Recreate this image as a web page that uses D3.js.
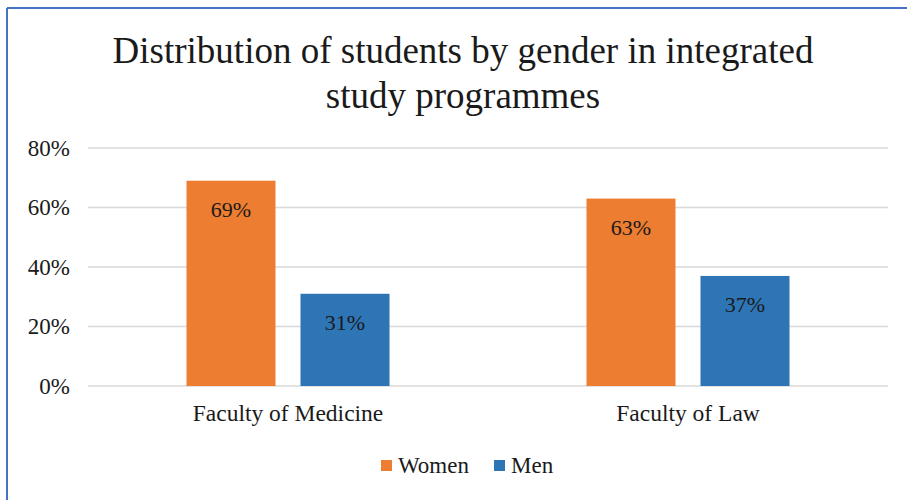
<!DOCTYPE html>
<html>
<head>
<meta charset="utf-8"/>
<title>Distribution of students by gender</title>
<script src="https://d3js.org/d3.v7.min.js"></script>
<style>
  body { margin: 0; background: #fff; }
  svg text { font-family: "Liberation Serif", "Times New Roman", serif; fill: #1a1a1a; }
</style>
</head>
<body>
<svg width="907" height="500"></svg>
<script>
// data
var faculties = ["Faculty of Medicine", "Faculty of Law"];
var seriesNames = ["Women", "Men"];
var women = [0.69, 0.63];
var men = [0.31, 0.37];
var yTicks = [0, 0.2, 0.4, 0.6, 0.8];
var colors = ["#ED7D31", "#2E75B6"];

var FONT = "'Liberation Serif', 'Times New Roman', serif";
var svg = d3.select("svg");

// blue frame (only top and left edges visible)
svg.append("line").attr("x1", 7).attr("y1", 8).attr("x2", 907).attr("y2", 8)
  .attr("stroke", "#4472C4").attr("stroke-width", 2);
svg.append("line").attr("x1", 7).attr("y1", 8).attr("x2", 7).attr("y2", 500)
  .attr("stroke", "#4472C4").attr("stroke-width", 2);

// title
var title = svg.append("text")
  .attr("text-anchor", "middle")
  .style("font-family", FONT)
  .style("font-size", "37px");
title.append("tspan").attr("x", 463).attr("y", 63).text("Distribution of students by gender in integrated");
title.append("tspan").attr("x", 463).attr("y", 108).text("study programmes");

var margin = {left: 88, right: 19, top: 148, bottom: 114};
var width = 907 - margin.left - margin.right,
    height = 500 - margin.top - margin.bottom;

var g = svg.append("g").attr("transform", "translate(" + margin.left + "," + margin.top + ")");

var x0 = d3.scaleBand().domain(faculties).range([0, width]);
var y = d3.scaleLinear().domain([0, 0.8]).range([height, 0]);

// gridlines
g.selectAll(".grid")
  .data(yTicks)
  .enter().append("line")
  .attr("x1", 0).attr("x2", width)
  .attr("y1", function(d) { return y(d); })
  .attr("y2", function(d) { return y(d); })
  .attr("stroke", "#d9d9d9").attr("stroke-width", 1.5);

// y axis
var yAxis = g.append("g")
  .call(d3.axisLeft(y).tickValues(yTicks).tickFormat(d3.format(".0%")).tickSize(0).tickPadding(18))
  .attr("font-family", null).attr("font-size", null);
yAxis.select(".domain").remove();
yAxis.selectAll("text").style("font-size", "23px").style("font-family", FONT).attr("fill", "#1a1a1a");

// x axis labels
var xAxis = g.append("g").attr("transform", "translate(0," + height + ")")
  .call(d3.axisBottom(x0).tickSize(0).tickPadding(18))
  .attr("font-family", null).attr("font-size", null);
xAxis.select(".domain").remove();
xAxis.selectAll("text").style("font-size", "23.5px").style("font-family", FONT).attr("fill", "#1a1a1a");

// bars
var barW = 89, gap = 25;
var x1 = d3.scaleOrdinal().domain(seriesNames)
  .range([-(barW + gap / 2), gap / 2]);

var rows = [];
faculties.forEach(function(f, i) {
  rows.push({fac: f, s: "Women", v: women[i], c: colors[0]});
  rows.push({fac: f, s: "Men", v: men[i], c: colors[1]});
});

g.selectAll(".bar")
  .data(rows)
  .enter().append("rect")
  .attr("x", function(d) { return x0(d.fac) + x0.bandwidth() / 2 + x1(d.s); })
  .attr("y", function(d) { return y(d.v); })
  .attr("width", barW)
  .attr("height", function(d) { return height - y(d.v); })
  .attr("fill", function(d) { return d.c; });

g.selectAll(".lbl")
  .data(rows)
  .enter().append("text")
  .attr("x", function(d) { return x0(d.fac) + x0.bandwidth() / 2 + x1(d.s) + barW / 2; })
  .attr("y", function(d) { return y(d.v) + 36; })
  .attr("text-anchor", "middle")
  .style("font-family", FONT)
  .style("font-size", "22px")
  .text(function(d) { return Math.round(d.v * 100) + "%"; });

// legend
var legend = svg.append("g").attr("transform", "translate(381,460)");
var lx = [0, 113];
seriesNames.forEach(function(s, i) {
  legend.append("rect").attr("x", lx[i]).attr("y", 0).attr("width", 11).attr("height", 11).attr("fill", colors[i]);
  legend.append("text").attr("x", lx[i] + 17).attr("y", 13)
    .style("font-family", FONT).style("font-size", "23px").text(s);
});
</script>
</body>
</html>
